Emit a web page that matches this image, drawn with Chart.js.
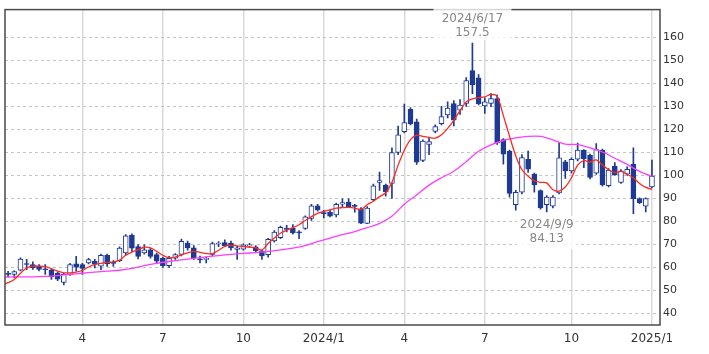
<!DOCTYPE html>
<html>
<head>
<meta charset="utf-8">
<script src="https://cdn.jsdelivr.net/npm/chart.js"></script>
<style>
  html, body { margin: 0; padding: 0; background: #fff; }
</style>
</head>
<body>
<canvas id="chart" width="709" height="354"></canvas>
<script>
// weekly candles, week 0 = 2023/1/9 ... week 104 = 2025/1/6
var opens  = [57.4,57,58.8,61.6,61.3,60.6,59.4,59,57.6,53.5,57,61.6,61.3,62,62.7,60.6,65.3,62,63,66.3,
              74.1,69.1,66.3,67.7,65.6,64,60.8,64.1,65.7,70.6,68.5,63.8,63.5,65.7,70.2,70.8,70.6,67.8,68,69.4,
              69,67.2,65.6,71.5,73,77,77,75.5,77,81.3,86.8,83.8,84,82.8,87.5,88.4,87,85.5,79.2,89.5,
              97,95.8,96.5,110,119,128.8,123.3,106.5,113.5,119.2,122.5,126.3,131.3,128.4,131.3,145.6,142.4,130.2,131.3,133.4,
              115.6,110.6,87.3,92.7,107,100.6,93.4,87.3,86.7,92.4,105.9,102,107.1,110.9,108.7,101,110.9,95.6,104.1,97,
              100.6,104.9,89.9,86.7,95];
var highs  = [58.3,58.5,64.2,63.6,62.5,61.3,61.3,59.5,58,57.5,61.8,64.8,61.8,64,63.5,65.8,65.8,63,69,74.3,
              74.6,70,69.8,68.3,66.3,64.5,64.8,66,72.3,71.5,69.5,65,64.5,71,71.3,72,71.5,69.3,70.3,70.5,
              69.5,67.6,72.7,76,78,78.3,78.7,76,82.5,87.5,87.5,84.8,85,88,89.8,89.8,87.5,86,86.5,96.3,
              101.5,96.3,112,121.5,131,129.5,124.5,115.5,116.5,122,130,132,132.5,133,142.5,157.5,143.8,133.7,135.6,134.9,
              116,111,93.5,109.1,110.6,101,93.8,91.3,91.3,114.1,106.6,107.7,114.1,111.3,109.3,113.9,111.5,103,105.6,102.6,
              103.8,112,90.3,90.3,106.7];
var lows   = [55.8,55.6,58.5,59.1,59.2,58.5,57,54.8,54.3,52.4,56.5,58.4,57,61.5,59.8,59.1,60.5,60.5,62.5,65.5,
              67,63.7,65.8,64,62,60,60,63.5,65,67.5,63.5,62,62,65,69,69,67.5,63.5,67.5,68.7,
              66.8,63.5,64.5,71,72.5,75.5,74.5,72.5,76.5,80.5,84.5,81.5,82,82,86,86,84,79,79,89,
              93.5,91,90,109,118.5,122,104.8,106,109,118.5,122,125,121.5,126.5,130,135.6,130.7,127,129.9,113.5,
              104.9,90.6,84.9,92,101.3,92.7,85.3,84.13,85.9,92,98.7,101,106.3,103.4,98.5,100.5,95.3,95,100,96.5,
              100,83.4,87.7,84.1,94.6];
var closes = [57,58.2,63.7,61.3,59.9,59.2,59,55.9,54.9,57,61.3,60.1,59.6,63.4,61.6,65.3,61.5,61.8,68.4,73.8,
              68.4,64.8,67.7,64.8,62.7,60.8,64,65.6,71.4,68.5,64.3,63.3,64,70.4,70.6,69.5,68.5,68.5,69.8,69.8,
              67.3,65,72.2,75.4,77.5,76.5,75,75,82,86.8,85,83.4,82.3,87.5,88.2,86.3,86.5,79.3,85.8,95.5,
              97.8,92.8,110,117.7,123,122.4,105.8,115,114.7,121.3,125.6,129.3,124,130.6,141.3,139.5,131.2,132,133.4,114.1,
              109.3,92.2,92.7,107.8,102.7,95.9,85.9,90.6,90.6,107.7,102,107,111,107.3,99.1,111.3,95.9,102.3,100.3,102,
              102.7,89.9,88.2,89.9,99.7];

// 13-week average (red), one value per week starting at week -1
var ma13 = [52.5,53.4,54.8,57.5,59.8,60.6,60.6,60.4,59.5,58.4,57.7,57.7,58,58.7,60.2,61.3,61.8,62.2,62.4,63.2,
            65.3,66.7,67.8,68.8,68.5,67,65.3,64.2,64.5,65.5,66.3,67,66.6,66.1,66,67.5,69.2,69.6,69.4,69.1,
            68.9,68.5,67.6,70.4,72.8,74.9,76.2,77.3,78.6,80.4,82.1,83.5,84.4,85,85.8,86,86.1,85.8,85.2,87.3,
            88.8,90.8,92.5,97,104.5,111,115.6,117.5,117,116.5,116.2,117.7,120.5,124,128.2,132,133.3,133.8,134.2,135.2,
            134.4,126,117,108.5,102.5,99.7,97.7,97,96.8,93.8,93.2,95,99,104.5,106.5,105.8,106.8,104.5,102.5,101.3,
            101.8,100.5,99,96.5,94.8,94];
// 26-week average (magenta), read every second week
var ma26Weeks = [-1,0,2,4,6,8,10,12,14,16,18,20,22,24,26,28,30,32,34,36,38,40,42,44,46,48,50,52,
                 54,56,58,60,62,64,66,68,70,72,74,76,78,80,82,84,86,88,90,92,94,96,98,100,102,104];
var ma26 = [55.9,55.9,55.9,55.9,56.1,56.5,57,57.5,58,58.4,58.8,59.6,60.8,61.8,62.6,63.3,64,64.6,65.2,65.7,
            66.1,66.5,67,67.7,68.4,69.5,71.2,72.8,74.3,75.6,77.3,79.2,82.3,87.5,91.5,95.8,99,101.8,106,110.5,
            113.3,115.2,116.3,117,117,115.5,113.6,113.4,112,110.2,107.5,104.8,101.8,99.6];

var tickWeeks  = [12, 25, 38, 51, 64, 77, 91, 104];
var tickLabels = ["4", "7", "10", "2024/1", "4", "7", "10", "2025/1"];
var yTicks = [40, 50, 60, 70, 80, 90, 100, 110, 120, 130, 140, 150, 160];

var highWeek = 75, lowWeek = 87;
var highNote = ["2024/6/17", "157.5"];
var lowNote  = ["2024/9/9", "84.13"];

var navy = "#1f3a93";

var wicks  = highs.map(function (h, i) { return {x: i, y: [lows[i], h]}; });
var bodies = opens.map(function (o, i) { return {x: i, y: [o, closes[i]]}; });
var red = ma13.map(function (v, i) { return {x: i - 1, y: v}; });
var mag = ma26.map(function (v, i) { return {x: ma26Weeks[i], y: v}; });

const frame = {
  id: "frame",
  afterDraw(chart) {
    const c = chart.ctx, a = chart.chartArea;
    const xs = chart.scales.x, ys = chart.scales.y;
    c.save();
    c.strokeStyle = "#4a4a4a";
    c.lineWidth = 1.5;
    c.strokeRect(a.left, a.top, a.right - a.left, a.bottom - a.top);

    c.font = "12px 'DejaVu Sans'";
    c.textAlign = "center";
    c.textBaseline = "middle";
    // high note
    var hx = xs.getPixelForValue(highWeek);
    var hy = ys.getPixelForValue(highs[highWeek]);
    c.fillStyle = "rgba(255,255,255,0.78)";
    c.fillRect(hx - 39, hy - 36, 78, 33);
    c.fillStyle = "#888";
    c.fillText(highNote[0], hx, hy - 24);
    c.fillText(highNote[1], hx, hy - 10);
    // low note
    var lx = xs.getPixelForValue(lowWeek);
    var ly = ys.getPixelForValue(lows[lowWeek]);
    c.fillStyle = "rgba(255,255,255,0.85)";
    c.fillRect(lx - 30, ly + 4, 60, 33);
    c.fillStyle = "#888";
    c.fillText(lowNote[0], lx, ly + 12.5);
    c.fillText(lowNote[1], lx, ly + 26.5);
    c.restore();
  }
};

new Chart(document.getElementById("chart"), {
  type: "bar",
  data: {
    datasets: [
      {type: "line", data: red, borderColor: "#ff2a1f", borderWidth: 1.3, pointRadius: 0, tension: 0.3, order: 0},
      {type: "line", data: mag, borderColor: "#ff3dff", borderWidth: 1.3, pointRadius: 0, tension: 0.3, order: 0},
      {data: bodies, grouped: false, barThickness: 5, minBarLength: 1, order: 1,
       backgroundColor: function (ctx) { var i = ctx.dataIndex; return closes[i] >= opens[i] ? "#fff" : navy; },
       borderColor: navy, borderWidth: 1, borderSkipped: false},
      {data: wicks, grouped: false, barThickness: 1, order: 2, backgroundColor: navy, borderWidth: 0}
    ]
  },
  options: {
    responsive: false,
    animation: false,
    layout: {padding: {left: 5, top: 5}},
    plugins: {legend: {display: false}, tooltip: {enabled: false}},
    scales: {
      x: {
        type: "linear", min: -0.5, max: 105.3, offset: false,
        grid: {offset: false, color: "#dadada", lineWidth: 1.5, drawTicks: false},
        border: {display: false},
        afterBuildTicks: function (s) { s.ticks = tickWeeks.map(function (v) { return {value: v}; }); },
        afterFit: function (s) { s.height = 29; },
        ticks: {
          autoSkip: false, maxRotation: 0, padding: 7, color: "#333",
          font: {family: "'DejaVu Sans'", size: 12},
          callback: function (v, i) { return tickLabels[i]; }
        }
      },
      y: {
        position: "right", min: 35, max: 172.1,
        grid: {color: "#c4c4c4", lineWidth: 1, drawTicks: false},
        border: {display: false, dash: [3, 3]},
        afterBuildTicks: function (s) { s.ticks = yTicks.map(function (v) { return {value: v}; }); },
        afterFit: function (s) { s.width = 49; },
        ticks: {padding: 3, color: "#333", font: {family: "'DejaVu Sans'", size: 11}}
      }
    }
  },
  plugins: [frame]
});
</script>
</body>
</html>
